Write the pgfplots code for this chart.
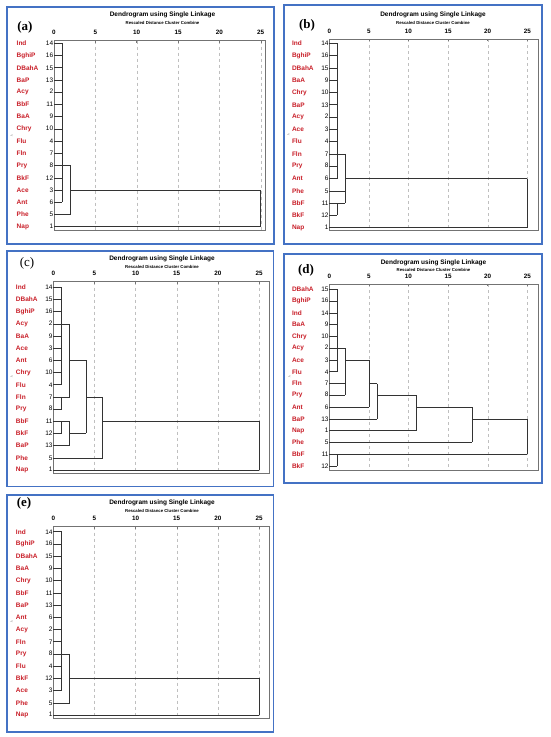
\documentclass[border=0pt]{standalone}
\usepackage{pgfplots}
\pgfplotsset{compat=1.18}
\usepackage{fontspec}
\setmainfont{Liberation Sans}
\newfontfamily\serifpanel{Liberation Serif}
\definecolor{lblred}{RGB}{200,30,40}
\definecolor{boxblue}{RGB}{68,114,196}
\newcommand\fs[1]{\fontsize{#1}{#1}\selectfont}
\newcommand\lbl[2]{\makebox[36.5pt][l]{\textcolor{lblred}{\bfseries #1}\hfill #2}}
\pgfplotsset{
  dendro/.style={
    scale only axis, anchor=north west,
    y dir=reverse, xmin=0,
    axis line style={black!55, line width=0.5pt},
    xtick={0,5,...,25}, xtick pos=upper, xticklabel pos=upper,
    tick align=inside, major tick length=2pt,
    x tick style={black!55, line width=0.4pt},
    ytick={1,...,16}, y tick style={draw=none},
    xmajorgrids, major grid style={black!25, dashed, line width=0.3pt},
    /pgf/number format/assume math mode=true,
    xticklabel style={font=\fs{6.3}\bfseries, inner sep=0pt, yshift=5.5pt},
    yticklabel style={font=\fs{6.5}, inner sep=0pt, xshift=-0.6pt, anchor=east},
    clip=false,
  },
  dline/.style={black!80, line width=0.55pt, unbounded coords=jump, mark=none, forget plot},
}
\begin{document}
\begin{tikzpicture}
\useasboundingbox (0pt,0pt) rectangle (550pt,-737pt);
% panel frames
\draw[boxblue, line width=1.8pt] (6.7pt,-7pt) rectangle (274pt,-244pt);
\draw[boxblue, line width=1.8pt] (284.3pt,-5pt) rectangle (541.7pt,-244pt);
\draw[boxblue, line width=1.8pt] (6.7pt,-251pt) rectangle (273.5pt,-486.5pt);
\draw[boxblue, line width=1.8pt] (284.3pt,-254.3pt) rectangle (541.7pt,-482.7pt);
\draw[boxblue, line width=1.8pt] (6.7pt,-495pt) rectangle (273.5pt,-731.7pt);
% panel letters
\node[font=\serifpanel\fs{13}\bfseries] at (25pt,-27pt) {(a)};
\node[font=\serifpanel\fs{13}\bfseries] at (307pt,-25pt) {(b)};
\node[font=\serifpanel\fs{13}] at (27pt,-263pt) {(c)};
\node[font=\serifpanel\fs{13}\bfseries] at (306pt,-270pt) {(d)};
\node[font=\serifpanel\fs{13}\bfseries] at (24pt,-503pt) {(e)};
% titles
\node[font=\fs{6.5}\bfseries] at (162.5pt,-15pt) {Dendrogram using Single Linkage};
\node[font=\fs{4.3}\bfseries] at (162.5pt,-23.3pt) {Rescaled Distance Cluster Combine};
\node[font=\fs{6.5}\bfseries] at (433pt,-15pt) {Dendrogram using Single Linkage};
\node[font=\fs{4.3}\bfseries] at (433pt,-22.5pt) {Rescaled Distance Cluster Combine};
\node[font=\fs{6.5}\bfseries] at (162pt,-259pt) {Dendrogram using Single Linkage};
\node[font=\fs{4.3}\bfseries] at (162pt,-266.7pt) {Rescaled Distance Cluster Combine};
\node[font=\fs{6.5}\bfseries] at (433.5pt,-262.7pt) {Dendrogram using Single Linkage};
\node[font=\fs{4.3}\bfseries] at (433.5pt,-270pt) {Rescaled Distance Cluster Combine};
\node[font=\fs{6.5}\bfseries] at (162pt,-503.3pt) {Dendrogram using Single Linkage};
\node[font=\fs{4.3}\bfseries] at (162pt,-510.7pt) {Rescaled Distance Cluster Combine};
% small Y axis marks
\node[font=\fs{3.5}, black!50, rotate=-90] at (11.7pt,-135.3pt) {Y};
\node[font=\fs{3.5}, black!50, rotate=-90] at (288.3pt,-135pt) {Y};
\node[font=\fs{3.5}, black!50, rotate=-90] at (11.7pt,-376.7pt) {Y};
\node[font=\fs{3.5}, black!50, rotate=-90] at (289.3pt,-376.7pt) {Y};
\node[font=\fs{3.5}, black!50, rotate=-90] at (11.7pt,-621.7pt) {Y};

% ---------------- (a)
\begin{axis}[dendro, at={(54pt,-40.7pt)}, width=211pt, height=189.3pt,
  xmax=25.52, ymin=0.79, ymax=16.27,
  yticklabels={\lbl{Ind}{14},\lbl{BghiP}{16},\lbl{DBahA}{15},\lbl{BaP}{13},\lbl{Acy}{2},\lbl{BbF}{11},\lbl{BaA}{9},\lbl{Chry}{10},\lbl{Flu}{4},\lbl{Fln}{7},\lbl{Pry}{8},\lbl{BkF}{12},\lbl{Ace}{3},\lbl{Ant}{6},\lbl{Phe}{5},\lbl{Nap}{1}}]
\addplot[dline] coordinates {
(0,1)(1,1) (0,nan) (0,2)(1,2) (0,nan) (0,3)(1,3) (0,nan) (0,4)(1,4) (0,nan)
(0,5)(1,5) (0,nan) (0,6)(1,6) (0,nan) (0,7)(1,7) (0,nan) (0,8)(1,8) (0,nan)
(0,9)(1,9) (0,nan) (0,10)(1,10) (0,nan) (0,11)(1,11) (0,nan) (0,12)(1,12) (0,nan)
(0,13)(1,13) (0,nan) (0,14)(1,14) (0,nan) (1,1)(1,14) (0,nan)
(1,11)(2,11) (0,nan) (0,15)(2,15) (0,nan) (2,11)(2,15) (0,nan)
(2,13)(25,13) (0,nan) (0,16)(25,16) (0,nan) (25,13)(25,16)};
\end{axis}

% ---------------- (b)
\begin{axis}[dendro, at={(329.3pt,-39pt)}, width=209pt, height=191pt,
  xmax=26.39, ymin=0.65, ymax=16.19,
  yticklabels={\lbl{Ind}{14},\lbl{BghiP}{16},\lbl{DBahA}{15},\lbl{BaA}{9},\lbl{Chry}{10},\lbl{BaP}{13},\lbl{Acy}{2},\lbl{Ace}{3},\lbl{Flu}{4},\lbl{Fln}{7},\lbl{Pry}{8},\lbl{Ant}{6},\lbl{Phe}{5},\lbl{BbF}{11},\lbl{BkF}{12},\lbl{Nap}{1}}]
\addplot[dline] coordinates {
(0,1)(1,1) (0,nan) (0,2)(1,2) (0,nan) (0,3)(1,3) (0,nan) (0,4)(1,4) (0,nan)
(0,5)(1,5) (0,nan) (0,6)(1,6) (0,nan) (0,7)(1,7) (0,nan) (0,8)(1,8) (0,nan)
(0,9)(1,9) (0,nan) (0,10)(1,10) (0,nan) (0,11)(1,11) (0,nan) (0,12)(1,12) (0,nan)
(1,1)(1,12) (0,nan)
(0,14)(1,14) (0,nan) (0,15)(1,15) (0,nan) (1,14)(1,15) (0,nan)
(1,10)(2,10) (0,nan) (0,13)(2,13) (0,nan) (1,14)(2,14) (0,nan) (2,10)(2,14) (0,nan)
(2,12)(25,12) (0,nan) (0,16)(25,16) (0,nan) (25,12)(25,16)};
\end{axis}

% ---------------- (c)
\begin{axis}[dendro, at={(53.3pt,-281.7pt)}, width=216pt, height=191.6pt,
  xmax=26.25, ymin=0.54, ymax=16.27,
  yticklabels={\lbl{Ind}{14},\lbl{DBahA}{15},\lbl{BghiP}{16},\lbl{Acy}{2},\lbl{BaA}{9},\lbl{Ace}{3},\lbl{Ant}{6},\lbl{Chry}{10},\lbl{Flu}{4},\lbl{Fln}{7},\lbl{Pry}{8},\lbl{BbF}{11},\lbl{BkF}{12},\lbl{BaP}{13},\lbl{Phe}{5},\lbl{Nap}{1}}]
\addplot[dline] coordinates {
(0,1)(1,1) (0,nan) (0,2)(1,2) (0,nan) (0,3)(1,3) (0,nan) (0,4)(1,4) (0,nan)
(0,5)(1,5) (0,nan) (0,6)(1,6) (0,nan) (0,7)(1,7) (0,nan) (0,8)(1,8) (0,nan)
(0,9)(1,9) (0,nan) (1,1)(1,9) (0,nan)
(0,10)(1,10) (0,nan) (0,11)(1,11) (0,nan) (1,10)(1,11) (0,nan)
(0,12)(1,12) (0,nan) (0,13)(1,13) (0,nan) (1,12)(1,13) (0,nan)
(1,4)(2,4) (0,nan) (1,10)(2,10) (0,nan) (2,4)(2,10) (0,nan)
(1,12)(2,12) (0,nan) (0,14)(2,14) (0,nan) (2,12)(2,14) (0,nan)
(2,7)(4,7) (0,nan) (2,13)(4,13) (0,nan) (4,7)(4,13) (0,nan)
(4,10)(6,10) (0,nan) (0,15)(6,15) (0,nan) (6,10)(6,15) (0,nan)
(6,12)(25,12) (0,nan) (0,16)(25,16) (0,nan) (25,12)(25,16)};
\end{axis}

% ---------------- (d)
\begin{axis}[dendro, at={(329.3pt,-284.3pt)}, width=209pt, height=185.7pt,
  xmax=26.39, ymin=0.58, ymax=16.34,
  yticklabels={\lbl{DBahA}{15},\lbl{BghiP}{16},\lbl{Ind}{14},\lbl{BaA}{9},\lbl{Chry}{10},\lbl{Acy}{2},\lbl{Ace}{3},\lbl{Flu}{4},\lbl{Fln}{7},\lbl{Pry}{8},\lbl{Ant}{6},\lbl{BaP}{13},\lbl{Nap}{1},\lbl{Phe}{5},\lbl{BbF}{11},\lbl{BkF}{12}}]
\addplot[dline] coordinates {
(0,1)(1,1) (0,nan) (0,2)(1,2) (0,nan) (0,3)(1,3) (0,nan) (0,4)(1,4) (0,nan)
(0,5)(1,5) (0,nan) (0,6)(1,6) (0,nan) (0,7)(1,7) (0,nan) (0,8)(1,8) (0,nan)
(1,1)(1,8) (0,nan)
(1,6)(2,6) (0,nan) (0,9)(2,9) (0,nan) (0,10)(2,10) (0,nan) (2,6)(2,10) (0,nan)
(2,7)(5,7) (0,nan) (0,11)(5,11) (0,nan) (5,7)(5,11) (0,nan)
(5,9)(6,9) (0,nan) (0,12)(6,12) (0,nan) (6,9)(6,12) (0,nan)
(6,10)(11,10) (0,nan) (0,13)(11,13) (0,nan) (11,10)(11,13) (0,nan)
(11,11)(18,11) (0,nan) (0,14)(18,14) (0,nan) (18,11)(18,14) (0,nan)
(0,15)(1,15) (0,nan) (0,16)(1,16) (0,nan) (1,15)(1,16) (0,nan)
(18,12)(25,12) (0,nan) (1,15)(25,15) (0,nan) (25,12)(25,15)};
\end{axis}

% ---------------- (e)
\begin{axis}[dendro, at={(53.3pt,-526.7pt)}, width=216pt, height=191.6pt,
  xmax=26.25, ymin=0.59, ymax=16.27,
  yticklabels={\lbl{Ind}{14},\lbl{BghiP}{16},\lbl{DBahA}{15},\lbl{BaA}{9},\lbl{Chry}{10},\lbl{BbF}{11},\lbl{BaP}{13},\lbl{Ant}{6},\lbl{Acy}{2},\lbl{Fln}{7},\lbl{Pry}{8},\lbl{Flu}{4},\lbl{BkF}{12},\lbl{Ace}{3},\lbl{Phe}{5},\lbl{Nap}{1}}]
\addplot[dline] coordinates {
(0,1)(1,1) (0,nan) (0,2)(1,2) (0,nan) (0,3)(1,3) (0,nan) (0,4)(1,4) (0,nan)
(0,5)(1,5) (0,nan) (0,6)(1,6) (0,nan) (0,7)(1,7) (0,nan) (0,8)(1,8) (0,nan)
(0,9)(1,9) (0,nan) (0,10)(1,10) (0,nan) (0,11)(1,11) (0,nan) (0,12)(1,12) (0,nan)
(0,13)(1,13) (0,nan) (0,14)(1,14) (0,nan) (1,1)(1,14) (0,nan)
(1,11)(2,11) (0,nan) (0,15)(2,15) (0,nan) (2,11)(2,15) (0,nan)
(2,13)(25,13) (0,nan) (0,16)(25,16) (0,nan) (25,13)(25,16)};
\end{axis}
\end{tikzpicture}
\end{document}
